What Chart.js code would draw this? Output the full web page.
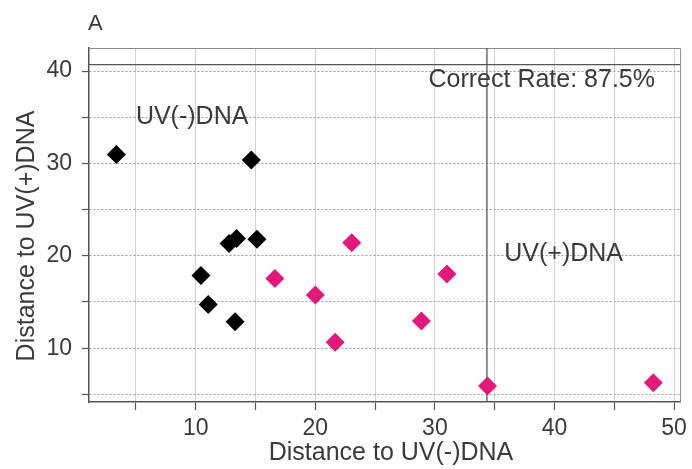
<!DOCTYPE html>
<html>
<head>
<meta charset="utf-8">
<script src="https://cdn.jsdelivr.net/npm/chart.js@4.4.1/dist/chart.umd.min.js"></script>
<style>
  html, body { margin: 0; padding: 0; background: #fff; }
  #wrap { width: 692px; height: 469px; }
</style>
</head>
<body>
<div id="wrap"><canvas id="chart" width="692" height="469"></canvas></div>
<script>
// ── Data: distance of each sample to the two class centroids ──
const uvNegX = [3.37, 14.65, 12.79, 13.41, 15.12, 10.44, 11.05, 13.29];
const uvNegY = [30.97, 30.36, 21.34, 21.88, 21.8, 17.88, 14.74, 12.86];
const uvPosX = [16.62, 20.0, 21.66, 23.05, 28.87, 31.0, 34.4, 48.26];
const uvPosY = [17.55, 15.75, 10.63, 21.41, 12.93, 18.02, 5.9, 6.26];

// decision boundaries
const cutX = 34.35;
const cutY = 40.7;

// axis ranges and ticks
const xMin = 1.08, xMax = 50.5;
const yMin = 4.17, yMax = 42.5;
const xTicks = [5, 10, 15, 20, 25, 30, 35, 40, 45, 50];
const yTicks = [5, 10, 15, 20, 25, 30, 35, 40];
const xLabels = [10, 20, 30, 40, 50];
const yLabels = [10, 20, 30, 40];

const TEXT = "#3a3a3a";
const FONT = "'Liberation Sans', Arial, sans-serif";

const pts = (xs, ys) => xs.map((x, i) => ({ x, y: ys[i] }));

// ── Frame, panel letter, axis titles and region labels ──
const decor = {
    id: "decor",
    beforeDatasetsDraw(chart) {
        const { ctx, chartArea: a } = chart;
        ctx.save();
        ctx.strokeStyle = "#8a8a8a";
        ctx.lineWidth = 1;
        ctx.beginPath();
        ctx.moveTo(a.left, a.top + 0.5);
        ctx.lineTo(a.right + 0.5, a.top + 0.5);
        ctx.lineTo(a.right + 0.5, a.bottom);
        ctx.stroke();
        ctx.restore();
    },
    afterDraw(chart) {
        const { ctx, scales } = chart;
        const sx = scales.x, sy = scales.y;
        ctx.save();
        ctx.fillStyle = TEXT;

        ctx.font = `22px ${FONT}`;
        ctx.textAlign = "left";
        ctx.textBaseline = "middle";
        ctx.fillText("A", 88, 24);

        ctx.font = `25px ${FONT}`;
        ctx.fillText("UV(-)DNA", sx.getPixelForValue(5), sy.getPixelForValue(35));
        ctx.fillText("UV(+)DNA", sx.getPixelForValue(35.8), sy.getPixelForValue(20.2));
        ctx.textAlign = "right";
        ctx.fillText("Correct Rate: 87.5%", sx.getPixelForValue(48.4), sy.getPixelForValue(39));

        // axis titles
        ctx.textAlign = "center";
        ctx.fillText("Distance to UV(-)DNA", 391, 453);
        ctx.translate(27, 236);
        ctx.rotate(-Math.PI / 2);
        ctx.fillText("Distance to UV(+)DNA", 0, 0);
        ctx.restore();
    },
};

new Chart(document.getElementById("chart"), {
    type: "scatter",
    data: {
        datasets: [
            {
                data: pts(uvNegX, uvNegY),
                backgroundColor: "#000",
                borderWidth: 0,
                pointStyle: "rectRot",
                pointRadius: 9.5,
                order: 1,
            },
            {
                data: pts(uvPosX, uvPosY),
                backgroundColor: "#e2187b",
                borderWidth: 0,
                pointStyle: "rectRot",
                pointRadius: 9.5,
                order: 1,
            },
            {
                type: "line",
                data: [{ x: xMin, y: cutY }, { x: xMax, y: cutY }],
                borderColor: "#555",
                borderWidth: 1.3,
                pointRadius: 0,
                order: 2,
            },
            {
                type: "line",
                data: [{ x: cutX, y: yMin }, { x: cutX, y: yMax }],
                borderColor: "#555",
                borderWidth: 1.3,
                pointRadius: 0,
                order: 2,
            },
        ],
    },
    options: {
        responsive: false,
        animation: false,
        devicePixelRatio: 1,
        layout: { padding: { top: 48, right: 9, left: 0, bottom: 0 } },
        plugins: { legend: { display: false }, tooltip: { enabled: false } },
        scales: {
            x: {
                type: "linear",
                min: xMin,
                max: xMax,
                afterBuildTicks: (s) => { s.ticks = xTicks.map((v) => ({ value: v })); },
                afterFit: (s) => { s.height = 67; },
                ticks: {
                    autoSkip: false,
                    maxRotation: 0,
                    padding: 5,
                    color: TEXT,
                    font: { family: FONT, size: 23 },
                    callback: (v) => (xLabels.includes(v) ? String(v) : ""),
                },
                grid: { color: "#d2d2d2", tickLength: 8, tickColor: "#555", tickWidth: 1.2 },
                border: { color: "#555", width: 1.5 },
            },
            y: {
                type: "linear",
                min: yMin,
                max: yMax,
                afterBuildTicks: (s) => { s.ticks = yTicks.map((v) => ({ value: v })); },
                afterFit: (s) => { s.width = 89; },
                ticks: {
                    autoSkip: false,
                    padding: 10,
                    color: TEXT,
                    font: { family: FONT, size: 23 },
                    callback: (v) => (yLabels.includes(v) ? String(v) : ""),
                },
                grid: { color: "#9a9a9a", tickLength: 7, tickColor: "#555", tickWidth: 1.2 },
                border: { color: "#555", width: 1.5, dash: [2, 2] },
            },
        },
    },
    plugins: [decor],
});
</script>
</body>
</html>
